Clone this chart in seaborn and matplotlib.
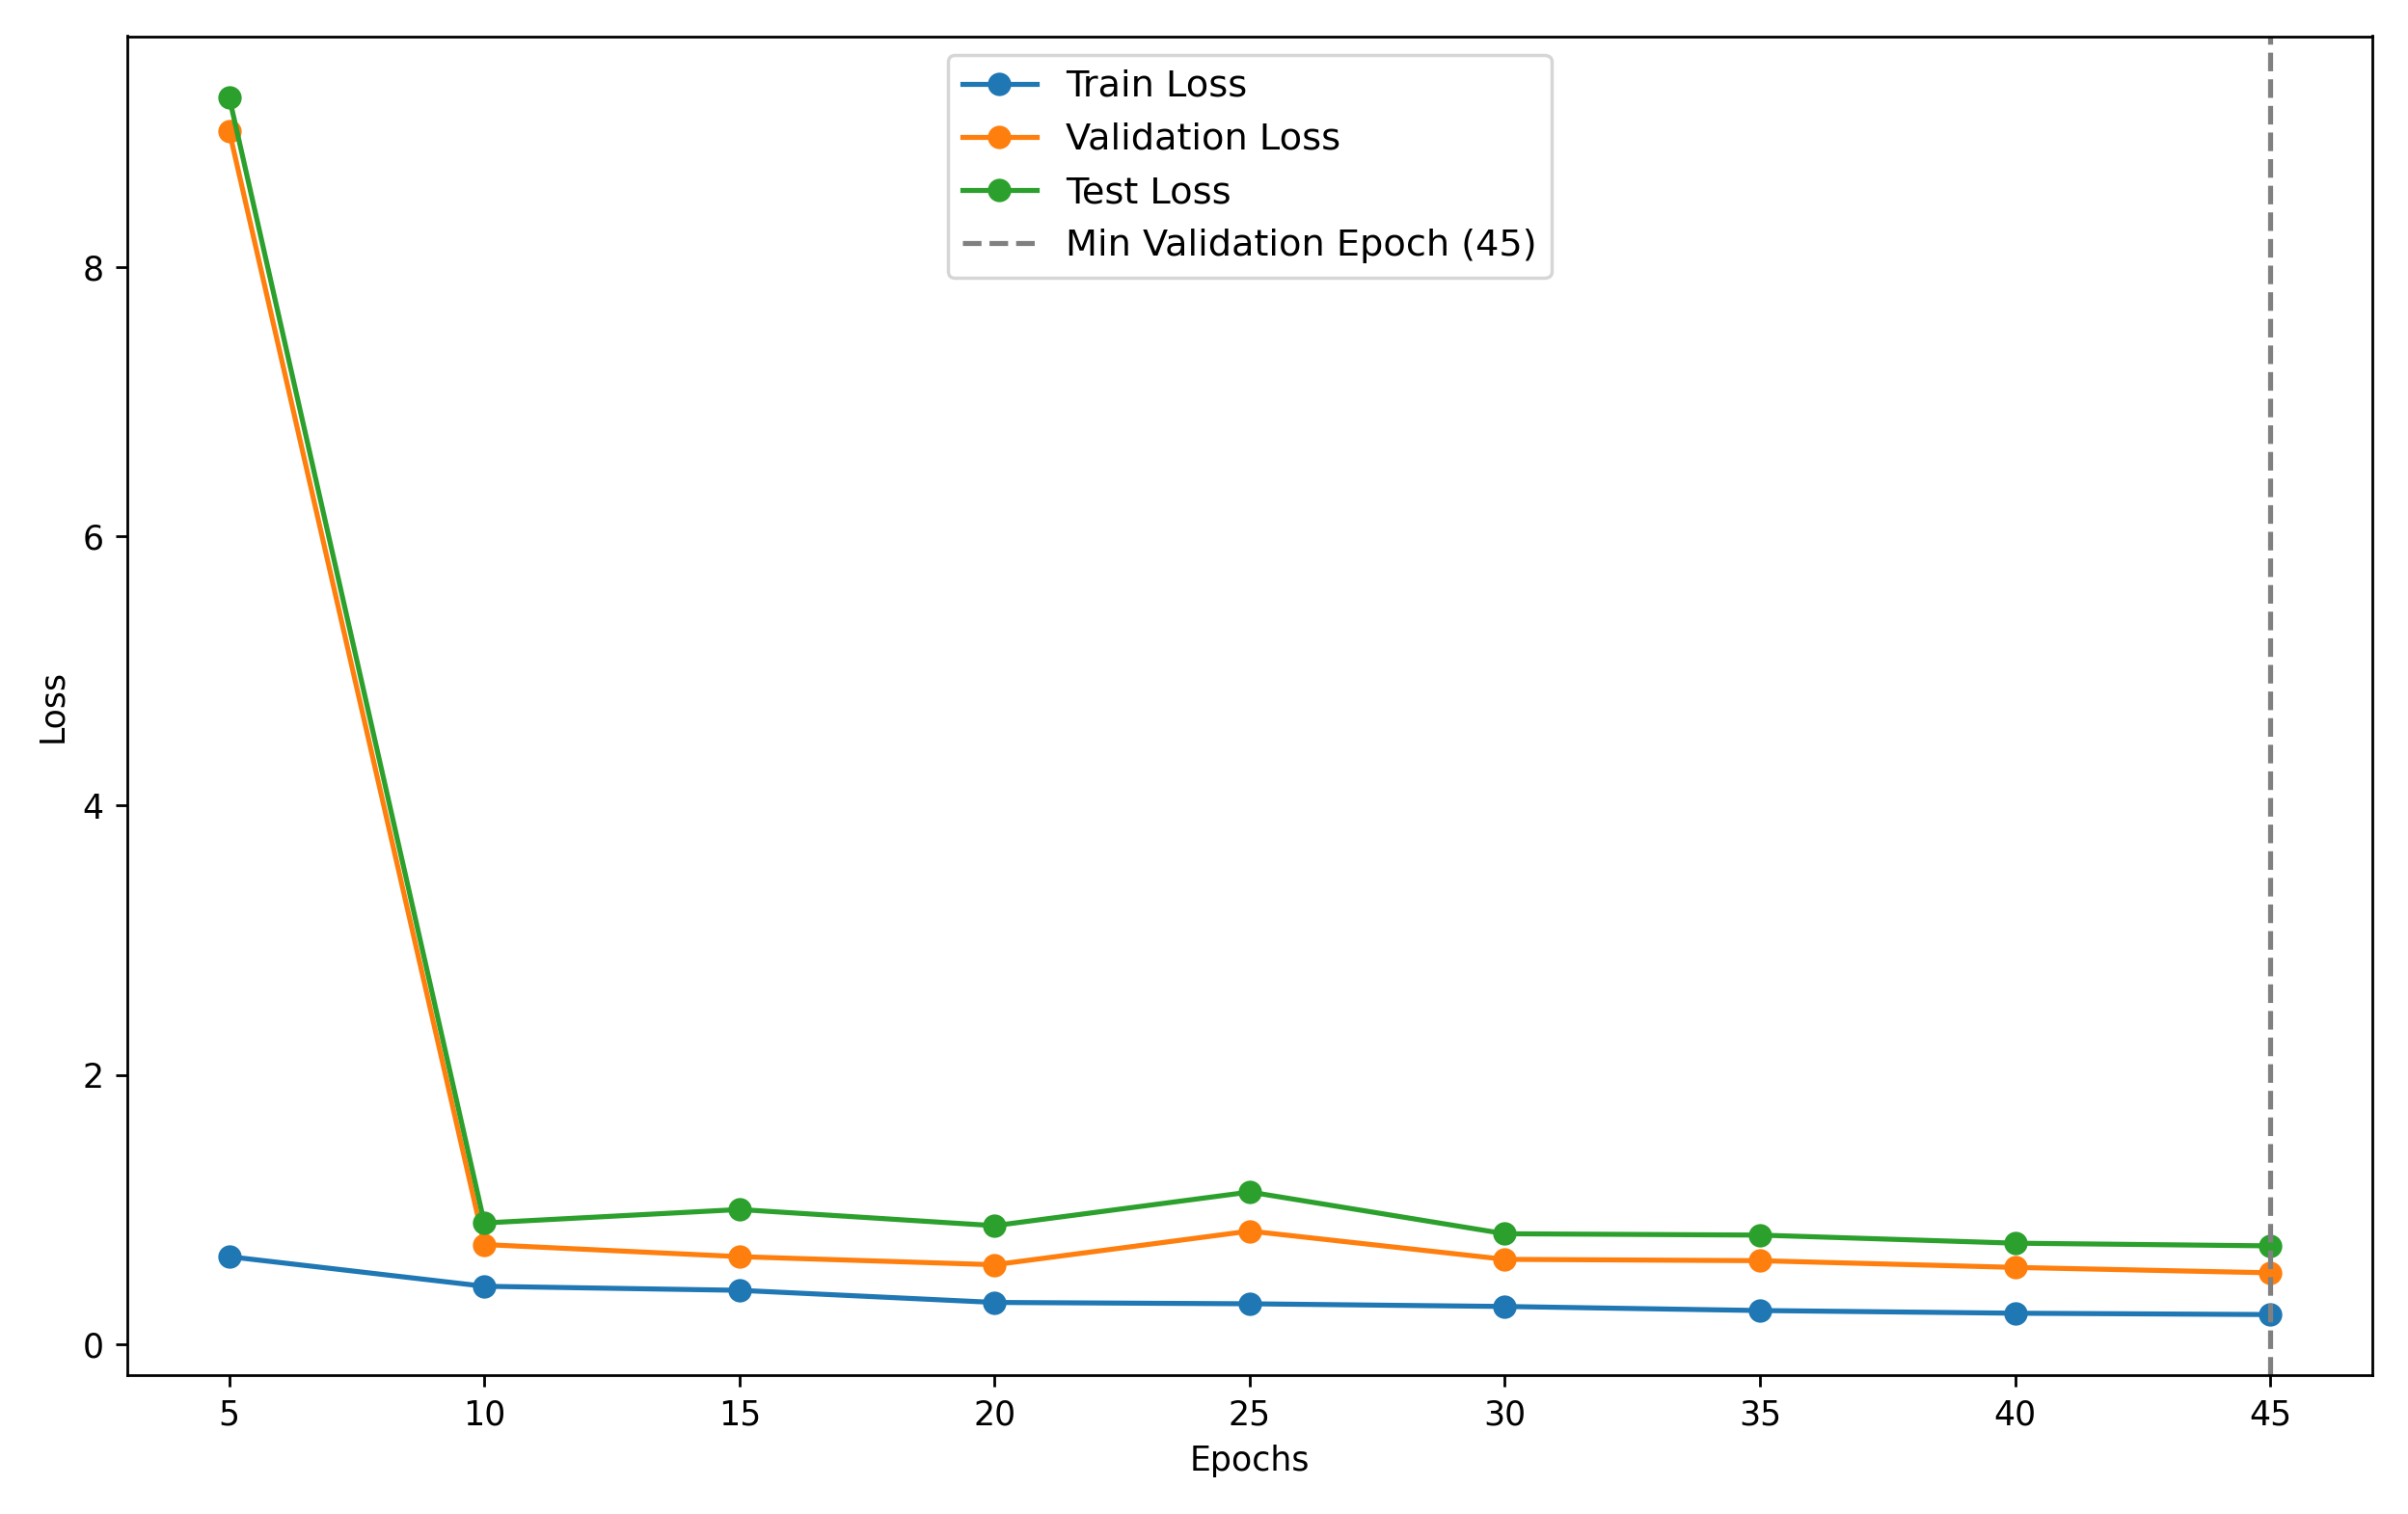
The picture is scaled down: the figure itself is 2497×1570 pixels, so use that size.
import matplotlib
matplotlib.use('Agg')
import matplotlib.pyplot as plt
import seaborn as sns
import pandas as pd

epochs     = [5, 10, 15, 20, 25, 30, 35, 40, 45]
train_loss = [0.65, 0.43, 0.40, 0.31, 0.30, 0.28, 0.25, 0.23, 0.22]
val_loss   = [9.01, 0.74, 0.65, 0.59, 0.84, 0.63, 0.62, 0.57, 0.53]
test_loss  = [9.26, 0.90, 1.00, 0.88, 1.13, 0.82, 0.81, 0.75, 0.73]
min_epoch  = 45

df = pd.DataFrame({'epoch': epochs, 'train': train_loss,
                   'val': val_loss, 'test': test_loss})

fig, ax = plt.subplots(figsize=(9.99, 6.28), dpi=250)

sns.lineplot(data=df, x='epoch', y='train', marker='o', markersize=7,
             markeredgewidth=0, color='#1f77b4', label='Train Loss', ax=ax)
sns.lineplot(data=df, x='epoch', y='val', marker='o', markersize=7,
             markeredgewidth=0, color='#ff7f0e', label='Validation Loss', ax=ax)
sns.lineplot(data=df, x='epoch', y='test', marker='o', markersize=7,
             markeredgewidth=0, color='#2ca02c', label='Test Loss', ax=ax)
ax.axvline(min_epoch, color='gray', linestyle='--', linewidth=1.5,
           label=f'Min Validation Epoch ({min_epoch})')

ax.set_xticks(epochs)
ax.set_xlabel('Epochs')
ax.set_ylabel('Loss')
ax.legend(loc='upper center', fontsize=11)

plt.tight_layout()
plt.savefig('out.png', dpi=250)
